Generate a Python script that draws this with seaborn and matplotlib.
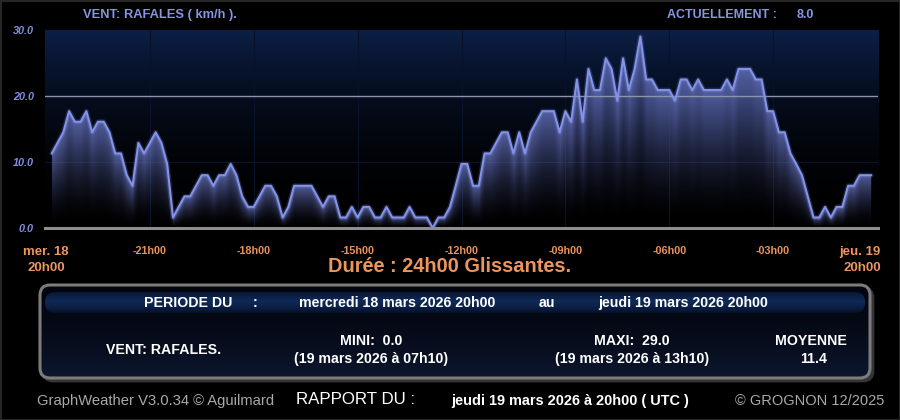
import numpy as np
import matplotlib
matplotlib.use("Agg")
import matplotlib.pyplot as plt
import seaborn as sns
from matplotlib.patches import FancyBboxPatch, Rectangle
from matplotlib import font_manager

# ---------------- data (rafales, km/h, relevés toutes les 10 min) ----------------
heures = np.arange(1, 144) / 6.0          # heures écoulées depuis mer. 18 20h00
rafales = [
    11.3, 12.9, 14.5, 17.7, 16.1, 16.1, 17.7, 14.5, 16.1, 16.1,
    14.5, 11.3, 11.3, 8.0, 6.4, 12.9, 11.3, 12.9, 14.5, 12.9,
    9.7, 1.6, 3.2, 4.8, 4.8, 6.4, 8.0, 8.0, 6.4, 8.0,
    8.0, 9.7, 8.0, 4.8, 3.2, 3.2, 4.8, 6.4, 6.4, 4.8,
    1.6, 3.2, 6.4, 6.4, 6.4, 6.4, 4.8, 3.2, 4.8, 4.8,
    1.6, 1.6, 3.2, 1.6, 3.2, 3.2, 1.6, 1.6, 3.2, 1.6,
    1.6, 1.6, 3.2, 1.6, 1.6, 1.6, 0.0, 1.6, 1.6, 3.2,
    6.4, 9.7, 9.7, 6.4, 6.4, 11.3, 11.3, 12.9, 14.5, 14.5,
    11.3, 14.5, 11.3, 14.5, 16.1, 17.7, 17.7, 17.7, 14.5, 17.7,
    16.1, 22.5, 16.1, 24.1, 20.9, 20.9, 25.7, 24.1, 19.3, 25.7,
    20.9, 24.1, 29.0, 22.5, 22.5, 20.9, 20.9, 20.9, 19.3, 22.5,
    22.5, 20.9, 22.5, 20.9, 20.9, 20.9, 20.9, 22.5, 20.9, 24.1,
    24.1, 24.1, 22.5, 22.5, 17.7, 17.7, 14.5, 14.5, 11.3, 9.7,
    8.0, 4.8, 1.6, 1.6, 3.2, 1.6, 3.2, 3.2, 6.4, 6.4,
    8.0, 8.0, 8.0,
]
x_ticks = [0, 3, 6, 9, 12, 15, 18, 21, 24]
x_tick_labels = ["", "-21h00", "-18h00", "-15h00", "-12h00", "-09h00", "-06h00", "-03h00", ""]
date_debut = ["mer. 18", "20h00"]
date_fin = ["jeu. 19", "20h00"]
y_ticks = [0, 10, 20, 30]
y_tick_labels = ["0.0", "10.0", "20.0", "30.0"]

titre = "VENT: RAFALES ( km/h )."
actuel_label = "ACTUELLEMENT :"
actuel_val = "8.0"
duree = "Durée : 24h00 Glissantes."
periode = ["PERIODE DU", ":", "mercredi 18 mars 2026 20h00", "au", "jeudi 19 mars 2026 20h00"]
ligne_nom = "VENT: RAFALES."
mini = ["MINI:  0.0", "(19 mars 2026 à 07h10)"]
maxi = ["MAXI:  29.0", "(19 mars 2026 à 13h10)"]
moyenne = ["MOYENNE", "11.4"]
pied = ["GraphWeather V3.0.34 © Aguilmard", "RAPPORT DU :",
        "jeudi 19 mars 2026 à 20h00 ( UTC )", "© GROGNON 12/2025"]

# ---------------- style ----------------
sns.set_style("white")
plt.rcParams["font.family"] = ["Liberation Sans", "DejaVu Sans"]
names = {f.name for f in font_manager.fontManager.ttflist}
narrow_ok = "Liberation Sans Narrow" in names
narrow_fam = ["Liberation Sans Narrow", "Liberation Sans", "DejaVu Sans"] if narrow_ok else ["Liberation Sans", "DejaVu Sans"]
nscale = 1.0 if narrow_ok else 0.82

W, H = 900, 420
fig = plt.figure(figsize=(W / 100, H / 100), dpi=100, facecolor="black")

# background / decoration axes in pixel coordinates
bg = fig.add_axes([0, 0, 1, 1])
bg.set_zorder(0)
bg.axis("off")

# ---------------- main chart ----------------
L, R, T, B = 45, 878, 30, 228
ax = fig.add_axes([L / W, 1 - B / H, (R - L) / W, (B - T) / H])
ax.set_zorder(2)
px_per_h = (877 - 46) / 24.0
x0 = (L - 46) / px_per_h
x1 = (R - 46) / px_per_h

# background gradient (navy at top -> black at bottom)
ys = np.linspace(0, 1, 300)[:, None]
top = np.array([12, 31, 70]) / 255.0
bgimg = np.ones((300, 1, 3)) * top[None, None, :] * (ys[..., None] ** 2.0)
ax.imshow(bgimg, extent=[x0, x1, 0, 30], origin="lower", aspect="auto", zorder=0,
          interpolation="bilinear")

# faint grid
ax.axhline(10, color="#0a142a", lw=0.8, zorder=1)
for xt in x_ticks[1:-1]:
    ax.axvline(xt, color="#08122a", lw=0.8, zorder=1)

# filled area with per-column vertical gradient
xs = np.linspace(x0, x1, 1700)
yy = np.linspace(0, 30, 700)
v = np.interp(xs, heures, rafales, left=np.nan, right=np.nan)
with np.errstate(invalid="ignore", divide="ignore"):
    frac = yy[:, None] / v[None, :]
alpha = np.where((frac <= 1.0) & np.isfinite(frac), np.clip(frac, 0, 1) ** 1.7, 0.0) * 0.75
fillimg = np.zeros((len(yy), len(xs), 4))
fillimg[..., 0] = 0.43
fillimg[..., 1] = 0.48
fillimg[..., 2] = 0.80
fillimg[..., 3] = alpha
poly = ax.fill_between(heures, rafales, 0, color="none", lw=0)
im = ax.imshow(fillimg, extent=[x0, x1, 0, 30], origin="lower", aspect="auto", zorder=2,
               interpolation="bilinear")
im.set_clip_path(poly.get_paths()[0], transform=ax.transData)

# 20 km/h reference line
ax.axhline(20, color="#8d93a8", lw=1.0, zorder=3)

# glow + line
ax.plot(heures, rafales, color="#7d8de4", lw=3.5, alpha=0.22, zorder=4)
sns.lineplot(x=heures, y=rafales, ax=ax, color="#8393e8", linewidth=1.5, zorder=5)

ax.set_xlim(x0, x1)
ax.set_ylim(0, 30)
ax.set_xlabel("")
ax.set_ylabel("")
for s in ["top", "right", "left"]:
    ax.spines[s].set_visible(False)
ax.spines["bottom"].set_color("#8e8e8e")
ax.spines["bottom"].set_linewidth(2.2)
ax.spines["bottom"].set_zorder(6)

ax.set_xticks(x_ticks)
ax.set_xticklabels(x_tick_labels, color="#e8925c", fontsize=7.8, fontweight="bold")
ax.tick_params(axis="x", length=8, width=1.5, color="#c98a58", pad=5, direction="out")
ax.set_yticks(y_ticks)
ax.set_yticklabels(y_tick_labels, color="#7f8fe2", fontsize=7.8, fontweight="bold",
                   fontstyle="italic")
ax.tick_params(axis="y", length=0, pad=8)

# ---------------- texts above / below chart ----------------
lav = "#8795e2"
org = "#ec955e"
bg.text(160, 15, titre, ha="center", va="center", color=lav, fontsize=9.3, fontweight="bold")
bg.text(722, 15, actuel_label, ha="center", va="center", color=lav, fontsize=9.0, fontweight="bold")
bg.text(805, 15, actuel_val, ha="center", va="center", color=lav, fontsize=9.0, fontweight="bold")

bg.text(46, 252, date_debut[0], ha="center", va="center", color=org, fontsize=9.5, fontweight="bold")
bg.text(46, 268, date_debut[1], ha="center", va="center", color=org, fontsize=9.5, fontweight="bold")
bg.text(860, 252, date_fin[0], ha="center", va="center", color=org, fontsize=9.5, fontweight="bold")
bg.text(862, 268, date_fin[1], ha="center", va="center", color=org, fontsize=9.5, fontweight="bold")
bg.text(450, 266, duree, ha="center", va="center", color=org, fontsize=14.4, fontweight="bold")

# ---------------- info panel ----------------
px, py, pw, ph = 40, 285, 830, 93
shadow = FancyBboxPatch((px + 3, py + 3), pw, ph, boxstyle="round,pad=0,rounding_size=10",
                        fc="#353535", ec="#353535", lw=2.0, zorder=1)
bg.add_patch(shadow)
gy = np.linspace(0, 1, 100)[:, None, None]
c_top = np.array([2, 5, 13]) / 255.0
c_bot = np.array([12, 22, 46]) / 255.0
pimg = c_top + (c_bot - c_top) * gy ** 1.5
pimg = np.repeat(pimg, 2, axis=1)
pim = bg.imshow(pimg, extent=[px, px + pw, py + ph, py], origin="upper", aspect="auto", zorder=2,
                interpolation="bilinear")
pclip = FancyBboxPatch((px, py), pw, ph, boxstyle="round,pad=0,rounding_size=10",
                       transform=bg.transData)
pim.set_clip_path(pclip)
outer = FancyBboxPatch((px, py), pw, ph, boxstyle="round,pad=0,rounding_size=10",
                       fc="none", ec="#7c7c7c", lw=2.2, zorder=3)
bg.add_patch(outer)

# header bar
hx, hy, hw, hh = 45, 292, 820, 21
hgy = np.linspace(0, 1, 60)
mid = np.array([15, 42, 88]) / 255.0
edge = np.array([5, 16, 40]) / 255.0
prof = 1 - np.abs(hgy - 0.45) / 0.55
himg = edge + (mid - edge) * np.clip(prof, 0, 1)[:, None, None] ** 0.8
himg = np.repeat(himg, 2, axis=1)
him = bg.imshow(himg, extent=[hx, hx + hw, hy + hh, hy], origin="upper", aspect="auto", zorder=4,
                interpolation="bilinear")
hclip = FancyBboxPatch((hx, hy), hw, hh, boxstyle="round,pad=0,rounding_size=10",
                       transform=bg.transData)
him.set_clip_path(hclip)

wf = dict(color="white", fontsize=10.2, fontweight="bold", va="center", zorder=6)
bg.text(188, 303, periode[0], ha="center", **wf)
bg.text(255, 303, periode[1], ha="center", **wf)
bg.text(397, 303, periode[2], ha="center", **wf)
bg.text(547, 303, periode[3], ha="center", **wf)
bg.text(683, 303, periode[4], ha="center", **wf)

bg.text(164, 350, ligne_nom, ha="center", **wf)
bg.text(371, 341, mini[0], ha="center", **wf)
bg.text(371, 359, mini[1], ha="center", **wf)
bg.text(632, 341, maxi[0], ha="center", **wf)
bg.text(632, 359, maxi[1], ha="center", **wf)
bg.text(811, 341, moyenne[0], ha="center", **wf)
bg.text(814, 359, moyenne[1], ha="center", **wf)

# ---------------- footer ----------------
bg.text(156, 401, pied[0], ha="center", va="center", color="#a9a9a9",
        fontsize=13.0 * nscale, family=narrow_fam)
bg.text(356, 400, pied[1], ha="center", va="center", color="white",
        fontsize=14.8 * nscale, family=narrow_fam)
bg.text(570, 401, pied[2], ha="center", va="center", color="white",
        fontsize=12.7 * nscale, fontweight="bold", family=narrow_fam)
bg.text(810, 401, pied[3], ha="center", va="center", color="#a9a9a9",
        fontsize=12.8 * nscale, family=narrow_fam)

# thin outer frame
bg.add_patch(Rectangle((0.5, 0.5), W - 1, H - 1, fc="none", ec="#262626", lw=1.5, zorder=7))

bg.set_xlim(0, W)
bg.set_ylim(H, 0)

fig.savefig("out.png", dpi=100, facecolor="black")
